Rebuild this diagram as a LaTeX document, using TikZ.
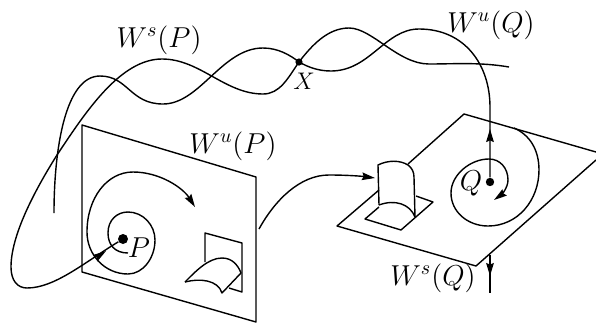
\documentclass[tikz,border=0pt]{standalone}
\usepackage{tikz}
\usetikzlibrary{arrows.meta,positioning}

\tikzset{
  curveline/.style={line width=0.7pt,line join=round},
  bigdot/.style={circle,fill=black,inner sep=0pt,minimum size=#1},
  flowtip/.style={-{Stealth[length=6.5pt,width=3.8pt,inset=0.8pt]},line width=0.7pt},
  lbl/.style={font=\Large,inner sep=0pt}
}

\begin{document}
\begin{tikzpicture}[x=0.5pt,y=-0.5pt]
    \useasboundingbox (0,0) rectangle (596,323);

    % fixed points
    \node[bigdot=5pt] (P) at (123,239) {};
    \node[bigdot=4.2pt] (Q) at (490,182) {};
    \node[bigdot=3.6pt] (X) at (299,62) {};

    % left plane
    \draw[curveline] (82,125) -- (256,177) -- (256,322) -- (82,272) -- cycle;
    % window and saddle on left plane
    \draw[curveline] (205,262) -- (205,233) -- (242,243) -- (242,292) -- (229,288);
    \draw[curveline] (185,282) .. controls (195,272) and (208,258) .. (222,258)
      .. controls (232,258) and (238,265) .. (241,273);
    \draw[curveline] (185,282) .. controls (200,278) and (218,280) .. (222,293) -- (241,273);

    % right plane
    \draw[curveline] (379,190) -- (337,226) -- (476,266) -- (596,160);
    \draw[curveline] (408,164) -- (464,114) -- (596,152);
    % window and hump on right plane
    \draw[curveline] (379,207) -- (365,219) -- (401,230) -- (433,202) -- (416,196);
    \draw[curveline] (379,205) -- (378,165) .. controls (388,160) and (400,160) .. (408,165)
      .. controls (412,168) and (414,172) .. (414,177) -- (415,217);
    \draw[curveline] (379,205) .. controls (395,199) and (410,204) .. (415,217);

    % invariant curves
    \draw[curveline] (P) .. controls (85,262) and (55,288) .. (27,288)
      .. controls (17,288) and (11,280) .. (11,267)
      .. controls (11,235) and (35,190) .. (57,155)
      .. controls (85,113) and (120,59) .. (162,59)
      .. controls (200,59) and (225,94) .. (263,94)
      .. controls (280,94) and (288,78) .. (X.center)
      .. controls (312,45) and (328,28) .. (349,28)
      .. controls (372,28) and (398,64) .. (429,64)
      .. controls (455,64) and (480,62) .. (509,67);
    \draw[curveline] (54,213) .. controls (54,150) and (65,76) .. (100,76)
      .. controls (128,76) and (130,104) .. (163,104)
      .. controls (200,104) and (222,48) .. (263,48)
      .. controls (278,48) and (290,55) .. (X.center)
      .. controls (308,67) and (318,71) .. (331,71)
      .. controls (370,71) and (385,29) .. (419,29)
      .. controls (465,29) and (490,65) .. (490,107) -- (Q);
    \coordinate (Qlow) at (490,255);
    \coordinate (Qend) at (490,293);
    \draw[curveline] (Qlow) -- (Qend);

    % spirals
    \draw[flowtip] (128,253) .. controls (115,253) and (108,245) .. (108,233)
      .. controls (108,220) and (117,212) .. (128,212)
      .. controls (143,212) and (155,225) .. (155,240)
      .. controls (155,258) and (143,274) .. (128,274)
      .. controls (105,274) and (87,255) .. (87,232)
      .. controls (87,198) and (107,172) .. (133,172)
      .. controls (160,172) and (183,188) .. (195,207);
    \draw[flowtip] (514,128) .. controls (530,135) and (539,150) .. (539,170)
      .. controls (539,200) and (518,226) .. (488,226)
      .. controls (468,226) and (451,212) .. (451,193)
      .. controls (451,175) and (470,159) .. (489,159)
      .. controls (500,159) and (508,168) .. (508,180)
      .. controls (508,188) and (501,195) .. (494,200);

    % arrow between the planes
    \draw[flowtip] (259,229) .. controls (275,200) and (300,175) .. (329,175)
      .. controls (345,175) and (360,176) .. (375,178);

    % arrow tips
    \coordinate (a1) at (103,253);
    \coordinate (b1) at (106,251);
    \draw[flowtip] (a1) -- (b1);
    \coordinate (a4) at (490,133);
    \coordinate (b4) at (490,129);
    \draw[flowtip] (a4) -- (b4);
    \coordinate (a6) at (490,272);
    \coordinate (b6) at (490,276);
    \draw[flowtip] (a6) -- (b6);

    % labels
    \node[lbl] (WsP) at (159,40) {$W^s(P)$};
    \node[lbl] (WuP) at (233,146) {$W^u(P)$};
    \node[lbl] (WuQ) at (491,25) {$W^u(Q)$};
    \node[lbl] (WsQ) at (433,278) {$W^s(Q)$};
    \node[lbl] (Plbl) at (139,248) {$P$};
    \node[lbl] (Qlbl) at (471,183) {$Q$};
    \node[font=\large,inner sep=0pt] (Xlbl) at (304,81) {$X$};
  \end{tikzpicture}
\end{document}
